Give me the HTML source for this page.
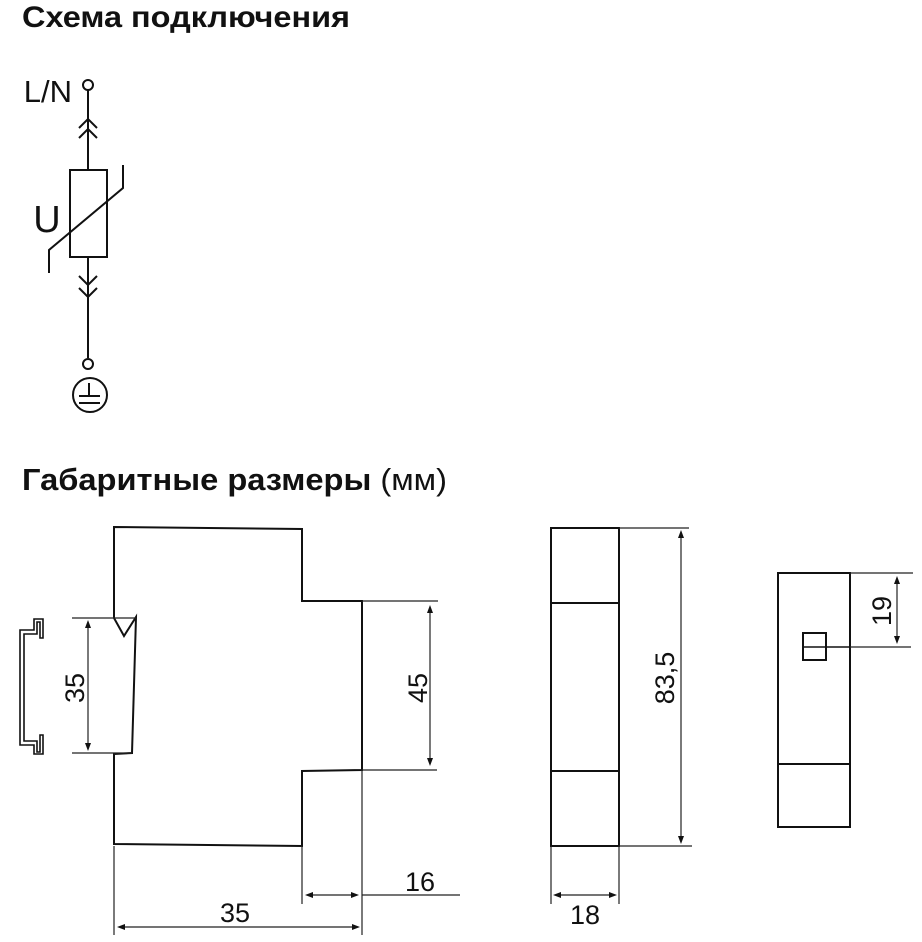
<!DOCTYPE html>
<html><head><meta charset="utf-8"><style>
html,body{margin:0;padding:0;background:#fff;}
svg{display:block;}
text{font-family:"Liberation Sans","DejaVu Sans",sans-serif;fill:#111;}
</style></head><body>
<svg width="922" height="942" viewBox="0 0 922 942" xmlns="http://www.w3.org/2000/svg">
<text x="22" y="27" font-size="30" font-weight="bold" textLength="328" lengthAdjust="spacingAndGlyphs">Схема подключения</text>
<text x="22" y="490" font-size="31" textLength="425" lengthAdjust="spacingAndGlyphs"><tspan font-weight="bold">Габаритные размеры</tspan> (мм)</text>

<g stroke="#111" stroke-width="2" fill="none">
<circle cx="88" cy="85" r="5"/>
<line x1="88" y1="90" x2="88" y2="170"/>
<polyline points="79,128 88,119 97,128"/>
<polyline points="79,138 88,129 97,138"/>
<rect x="70" y="170" width="37" height="87"/>
<polyline points="49,273 49,250 123,188 123,165"/>
<line x1="88" y1="257" x2="88" y2="358"/>
<polyline points="79,276 88,285 97,276"/>
<polyline points="79,288 88,297 97,288"/>
<circle cx="88" cy="364" r="5"/>
<circle cx="90" cy="395" r="17"/>
<line x1="89" y1="383" x2="89" y2="396"/>
<line x1="79" y1="396" x2="100" y2="396"/>
<line x1="79" y1="403" x2="100" y2="403"/>

<polyline points="114,618 114,527 302,529 302,601 362,601 362,770 302,771 302,846 114,844 114,754 132,753 136,617 124,636 114,618"/>
<polygon stroke-width="1.6" points="20,630 34,630 34,619 43,619 43,638 40,638 40,622 37,622 37,634 24,634 24,741 37,741 37,752 40,752 40,735 43,735 43,754 34,754 34,745 20,745"/>

<rect x="551" y="528" width="68" height="318"/>
<line x1="551" y1="603" x2="619" y2="603"/>
<line x1="551" y1="771" x2="619" y2="771"/>
<rect x="778" y="573" width="72" height="254"/>
<line x1="778" y1="764" x2="850" y2="764"/>
<rect x="803" y="633" width="23" height="27"/>
<line x1="803" y1="647" x2="850" y2="647" stroke-width="1.5"/>
</g>

<g stroke="#222" stroke-width="1.2" fill="none">
<line x1="72" y1="618" x2="136" y2="618"/>
<line x1="72" y1="753" x2="132" y2="753"/>
<line x1="88" y1="624" x2="88" y2="747"/>
<line x1="362" y1="601" x2="438" y2="601"/>
<line x1="362" y1="770" x2="437" y2="770"/>
<line x1="430" y1="609" x2="430" y2="762"/>
<line x1="114" y1="846" x2="114" y2="935"/>
<line x1="302" y1="846" x2="302" y2="904"/>
<line x1="362" y1="770" x2="362" y2="935"/>
<line x1="309" y1="895" x2="355" y2="895"/>
<line x1="362" y1="895" x2="460" y2="895"/>
<line x1="121" y1="927" x2="356" y2="927"/>
<line x1="619" y1="528" x2="689" y2="528"/>
<line x1="619" y1="846" x2="692" y2="846"/>
<line x1="681" y1="534" x2="681" y2="840"/>
<line x1="551" y1="846" x2="551" y2="904"/>
<line x1="619" y1="846" x2="619" y2="904"/>
<line x1="556" y1="895" x2="613" y2="895"/>
<line x1="850" y1="573" x2="913" y2="573"/>
<line x1="850" y1="647" x2="911" y2="647"/>
<line x1="897" y1="580" x2="897" y2="640"/>
</g>
<g fill="#111">
<polygon points="88,620 85,628 91,628"/><polygon points="88,751 85,743 91,743"/>
<polygon points="430,605 427,613 433,613"/><polygon points="430,766 427,758 433,758"/>
<polygon points="305,895 313,892 313,898"/><polygon points="359,895 351,892 351,898"/>
<polygon points="117,927 125,924 125,930"/><polygon points="360,927 352,924 352,930"/>
<polygon points="681,530 678,538 684,538"/><polygon points="681,844 678,836 684,836"/>
<polygon points="553,895 561,892 561,898"/><polygon points="617,895 609,892 609,898"/>
<polygon points="897,576 894,584 900,584"/><polygon points="897,644 894,636 900,636"/>
</g>

<text x="72" y="102" font-size="31" text-anchor="end">L/N</text>
<text x="47" y="232" font-size="38" text-anchor="middle">U</text>
<text font-size="27" text-anchor="middle" transform="translate(84,688) rotate(-90)">35</text>
<text font-size="27" text-anchor="middle" transform="translate(427,688) rotate(-90)">45</text>
<text font-size="27" text-anchor="middle" transform="translate(674,678) rotate(-90)">83,5</text>
<text font-size="27" text-anchor="middle" transform="translate(891,611) rotate(-90)">19</text>
<text x="420" y="891" font-size="27" text-anchor="middle">16</text>
<text x="235" y="922" font-size="27" text-anchor="middle">35</text>
<text x="585" y="924" font-size="27" text-anchor="middle">18</text>
</svg>
</body></html>
